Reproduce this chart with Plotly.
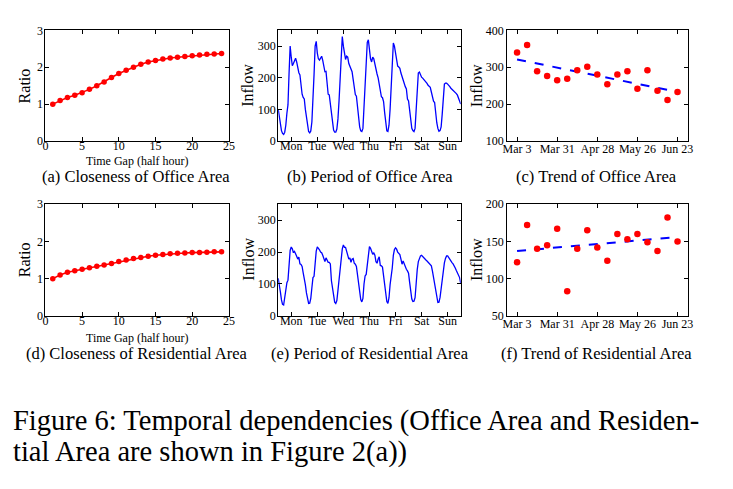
import numpy as np
import plotly.graph_objects as go

# ---------------- data ----------------
gap_x = list(range(1, 25))
office_ratio = [1.00, 1.10, 1.18, 1.24, 1.31, 1.40, 1.50, 1.60, 1.72, 1.83, 1.92, 2.00,
                2.08, 2.14, 2.18, 2.22, 2.25, 2.27, 2.29, 2.31, 2.33, 2.35, 2.36, 2.37]
resid_ratio = [1.00, 1.10, 1.17, 1.21, 1.25, 1.29, 1.33, 1.37, 1.41, 1.46, 1.50, 1.54,
               1.57, 1.60, 1.63, 1.65, 1.67, 1.68, 1.69, 1.70, 1.70, 1.71, 1.72, 1.72]

day_labels = ["Mon", "Tue", "Wed", "Thu", "Fri", "Sat", "Sun"]
# hourly inflow over one week (Mon 0h ... Sun 24h)
office_inflow = [
    101, 75, 52, 33, 24, 21, 28, 50, 88, 115, 215, 300, 265, 238, 245, 258, 262, 250, 232, 216, 209, 165, 148, 138,
    133, 100, 70, 45, 30, 26, 32, 60, 120, 210, 300, 315, 278, 260, 256, 265, 268, 255, 232, 219, 220, 190, 148, 146,
    120, 82, 55, 35, 28, 28, 38, 70, 127, 200, 290, 330, 300, 270, 258, 268, 265, 245, 238, 228, 219, 195, 160, 147,
    142, 105, 75, 45, 32, 30, 40, 100, 180, 245, 312, 320, 280, 260, 250, 265, 260, 240, 222, 212, 200, 182, 160, 140,
    137, 125, 90, 50, 32, 30, 50, 100, 165, 255, 310, 300, 275, 248, 237, 234, 230, 215, 202, 198, 178, 172, 165, 133,
    127, 94, 60, 40, 33, 30, 40, 90, 165, 215, 218, 206, 202, 199, 195, 190, 188, 182, 176, 174, 170, 155, 140, 126,
    122, 86, 58, 40, 31, 33, 45, 85, 127, 180, 183, 183, 180, 177, 172, 167, 164, 162, 159, 155, 150, 145, 135, 125, 117,
]
resid_inflow = [
    118, 100, 75, 50, 36, 34, 60, 96, 104, 112, 155, 205, 216, 210, 198, 202, 195, 182, 178, 184, 163, 161, 155, 135,
    118, 98, 72, 50, 39, 40, 55, 88, 120, 124, 168, 203, 216, 213, 207, 200, 198, 190, 175, 170, 182, 172, 168, 168,
    163, 110, 82, 58, 43, 39, 48, 80, 118, 140, 185, 210, 222, 215, 215, 200, 190, 178, 182, 168, 178, 180, 165, 162,
    155, 130, 100, 70, 51, 44, 55, 100, 125, 130, 165, 195, 217, 212, 198, 193, 197, 190, 170, 165, 178, 185, 158, 157,
    153, 125, 92, 62, 45, 39, 57, 98, 122, 150, 190, 208, 213, 209, 200, 194, 192, 178, 162, 172, 163, 149, 146, 141,
    134, 105, 72, 53, 45, 46, 57, 107, 145, 170, 183, 188, 190, 187, 182, 179, 175, 172, 168, 163, 160, 157, 140, 118,
    95, 75, 54, 42, 43, 58, 85, 115, 138, 166, 180, 188, 188, 182, 178, 173, 167, 163, 158, 150, 142, 136, 130, 120, 103,
]

week_tick_labels = ["Mar 3", "Mar 31", "Apr 28", "May 26", "Jun 23"]
office_trend = [340, 360, 289, 276, 265, 269, 292, 301, 280, 254, 280, 289, 242, 292, 236, 211, 233]
resid_trend = [122, 172, 140, 145, 167, 83, 140, 165, 142, 124, 160, 153, 160, 149, 137, 182, 150]

# ---------------- figure ----------------
W, H = 733, 489
FONT = "Liberation Serif"
RED = "#ff0000"
BLUE = "#0000ff"


def dom(x0, x1, y0, y1):
    return [x0 / W, x1 / W], [1 - y1 / H, 1 - y0 / H]


panels = {
    1: dom(42, 228, 24, 138),
    2: dom(278, 463, 24, 138),
    3: dom(510, 693, 24, 138),
    4: dom(42, 228, 203, 318),
    5: dom(278, 463, 203, 318),
    6: dom(510, 693, 203, 318),
}

fig = go.Figure()

hours = np.arange(len(office_inflow)) / 24.0
weeks = np.arange(len(office_trend))


def ax(i):
    return ("x" if i == 1 else f"x{i}"), ("y" if i == 1 else f"y{i}")


# (a) & (d) closeness
for i, ratio in ((1, office_ratio), (4, resid_ratio)):
    xa, ya = ax(i)
    fig.add_trace(go.Scatter(x=gap_x, y=ratio, mode="lines+markers",
                             line=dict(color=RED, width=1.6),
                             marker=dict(color=RED, size=5.5),
                             xaxis=xa, yaxis=ya, showlegend=False))

# (b) & (e) period
for i, series in ((2, office_inflow), (5, resid_inflow)):
    xa, ya = ax(i)
    fig.add_trace(go.Scatter(x=hours, y=series, mode="lines",
                             line=dict(color=BLUE, width=1.3),
                             xaxis=xa, yaxis=ya, showlegend=False))

# (c) & (f) trend
for i, series in ((3, office_trend), (6, resid_trend)):
    xa, ya = ax(i)
    k, b = np.polyfit(weeks, series, 1)
    xs = np.array([weeks[0], weeks[-1]])
    fig.add_trace(go.Scatter(x=xs, y=k * xs + b, mode="lines",
                             line=dict(color=BLUE, width=2, dash="dash"),
                             xaxis=xa, yaxis=ya, showlegend=False))
    fig.add_trace(go.Scatter(x=weeks, y=series, mode="markers",
                             marker=dict(color=RED, size=6.5),
                             xaxis=xa, yaxis=ya, showlegend=False))

base = dict(showline=True, mirror="ticks", linecolor="black", linewidth=1,
            ticks="inside", ticklen=4, tickcolor="black", tickwidth=1,
            showgrid=False, zeroline=False,
            tickfont=dict(family=FONT, size=12, color="black"))

layout = dict(width=W, height=H, margin=dict(l=0, r=0, t=0, b=0),
              paper_bgcolor="white", plot_bgcolor="white", showlegend=False)

for i in range(1, 7):
    xd, yd = panels[i]
    xk = "xaxis" if i == 1 else f"xaxis{i}"
    yk = "yaxis" if i == 1 else f"yaxis{i}"
    xa, ya = ax(i)
    xax = dict(base, domain=xd, anchor=ya, ticklabelstandoff=-6)
    yax = dict(base, domain=yd, anchor=xa, ticklabelstandoff=-1)
    if i in (1, 4):
        xax.update(range=[0, 25], tickvals=[0, 5, 10, 15, 20, 25])
        yax.update(range=[0, 3], tickvals=[0, 1, 2, 3])
    elif i in (2, 5):
        xax.update(range=[0, 7], tickvals=[d + 0.5 for d in range(7)], ticktext=day_labels)
        yax.update(range=[0, 350], tickvals=[0, 100, 200, 300])
    else:
        xax.update(range=[-1, 17], tickvals=[0, 4, 8, 12, 16], ticktext=week_tick_labels,
                   ticklabelstandoff=-3)
        yax.update(ticklabelstandoff=0)
        if i == 3:
            yax.update(range=[100, 400], tickvals=[100, 200, 300, 400])
        else:
            yax.update(range=[50, 200], tickvals=[50, 100, 150, 200])
    layout[xk] = xax
    layout[yk] = yax

ann = []


def text(x, y, s, size, angle=0, xanchor="center", yanchor="middle"):
    ann.append(dict(x=x / W, y=1 - y / H, xref="paper", yref="paper", text=s,
                    showarrow=False, textangle=angle, xanchor=xanchor, yanchor=yanchor,
                    font=dict(family=FONT, size=size, color="black")))


# axis titles
for yc in (81, 260):
    text(21, yc, "Ratio", 16, angle=-90)
    text(247.5, yc, "Inflow", 16, angle=-90)
    text(479, yc, "Inflow", 16, angle=-90)
text(135, 159, "Time Gap (half hour)", 12)
text(135, 341, "Time Gap (half hour)", 12)

# captions
text(134, 175, "(a) Closeness of Office Area", 16.5)
text(371, 175, "(b) Period of Office Area", 16.5)
text(601, 175, "(c) Trend of Office Area", 16.5)
text(135, 357, "(d) Closeness of Residential Area", 16.5)
text(371, 357, "(e) Period of Residential Area", 16.5)
text(601, 357, "(f) Trend of Residential Area", 16.5)

# figure caption
text(7, 426, "Figure 6: Temporal dependencies (Office Area and Residen-", 28.5, xanchor="left")
text(7, 458, "tial Area are shown in Figure 2(a))", 28.5, xanchor="left")

layout["annotations"] = ann
fig.update_layout(**layout)
fig.write_html("out.html")
